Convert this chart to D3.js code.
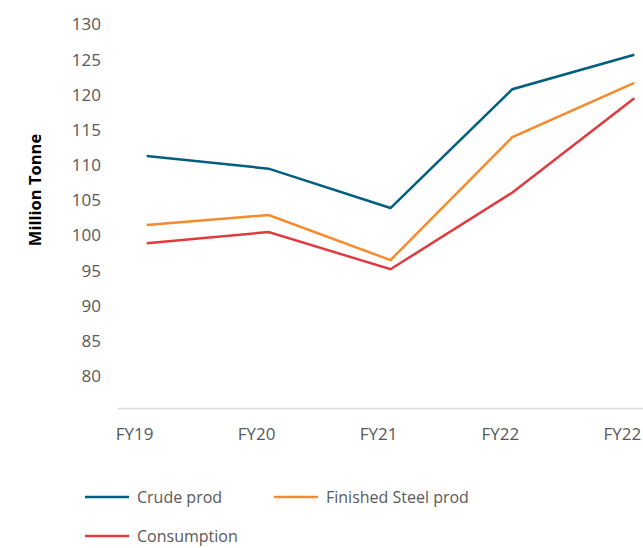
<!DOCTYPE html>
<html>
<head>
<meta charset="utf-8">
<script src="https://cdn.jsdelivr.net/npm/d3@7"></script>
<style>
  body { margin: 0; background: #fff; }
  svg { display: block; }
  text { font-family: "Open Sans", "Noto Sans", sans-serif; }
</style>
</head>
<body>
<svg id="chart" width="643" height="548"></svg>
<script>
// data
var years = ["FY19", "FY20", "FY21", "FY22", "FY22"];
var crudeProd = [111.3, 109.5, 103.9, 120.8, 125.7];
var finishedSteel = [101.5, 102.9, 96.5, 114.0, 121.7];
var consumption = [98.9, 100.5, 95.2, 106.1, 119.5];
var yTicks = [80, 85, 90, 95, 100, 105, 110, 115, 120, 125, 130];

var seriesNames = ["Crude prod", "Finished Steel prod", "Consumption"];
var seriesColors = ["#015e7e", "#f68a2d", "#e03a3f"];
var seriesValues = [crudeProd, finishedSteel, consumption];

var svg = d3.select("#chart");

// x: index based so the duplicate FY22 label keeps its own slot
var x = d3.scalePoint()
    .domain(d3.range(years.length))
    .range([146.7, 634.3]);

var y = d3.scaleLinear()
    .domain([75.4, 130])
    .range([408.5, 24.5]);

// baseline
svg.append("line")
    .attr("x1", 118).attr("x2", 643)
    .attr("y1", y(75.4)).attr("y2", y(75.4))
    .attr("stroke", "#dcdcdc")
    .attr("stroke-width", 1.5);

// y axis labels (no axis line)
var yAxis = svg.append("g")
    .attr("transform", "translate(101,0)")
    .call(d3.axisLeft(y).tickValues(yTicks).tickSize(0).tickPadding(0));
yAxis.select(".domain").remove();
yAxis.selectAll("text")
    .attr("font-family", "'Open Sans', sans-serif")
    .attr("font-size", 17)
    .attr("fill", "#595959");

// x axis labels, shifted a bit left of the data points like the original
var xAxis = svg.append("g")
    .attr("transform", "translate(-12.5," + 428 + ")")
    .call(d3.axisBottom(x).tickSize(0).tickPadding(0).tickFormat(function(i){ return years[i]; }));
xAxis.select(".domain").remove();
xAxis.selectAll("text")
    .attr("font-family", "'Open Sans', sans-serif")
    .attr("font-size", 17)
    .attr("fill", "#595959");

// y title
svg.append("text")
    .attr("transform", "translate(41,190) rotate(-90)")
    .attr("text-anchor", "middle")
    .attr("font-family", "'Liberation Sans', Arial, sans-serif")
    .attr("font-weight", "bold")
    .attr("font-size", 16.5)
    .attr("fill", "#000")
    .text("Million Tonne");

var line = d3.line()
    .x(function(d, i){ return x(i); })
    .y(function(d){ return y(d); });

svg.append("g").selectAll("path")
    .data(seriesValues)
    .enter()
    .append("path")
    .attr("d", line)
    .attr("fill", "none")
    .attr("stroke", function(d, i){ return seriesColors[i]; })
    .attr("stroke-width", 2.5)
    .attr("stroke-linejoin", "miter");

// legend
var legendPos = [[85, 497], [274, 497], [85, 536]];
var legend = svg.append("g").selectAll("g")
    .data(seriesNames)
    .enter()
    .append("g")
    .attr("transform", function(d, i){ return "translate(" + legendPos[i][0] + "," + legendPos[i][1] + ")"; });
legend.append("line")
    .attr("x1", 0).attr("x2", 44)
    .attr("stroke", function(d, i){ return seriesColors[i]; })
    .attr("stroke-width", 2.5);
legend.append("text")
    .attr("x", 52)
    .attr("dy", "0.35em")
    .attr("font-size", 16)
    .attr("fill", "#595959")
    .text(function(d){ return d; });
</script>
</body>
</html>
